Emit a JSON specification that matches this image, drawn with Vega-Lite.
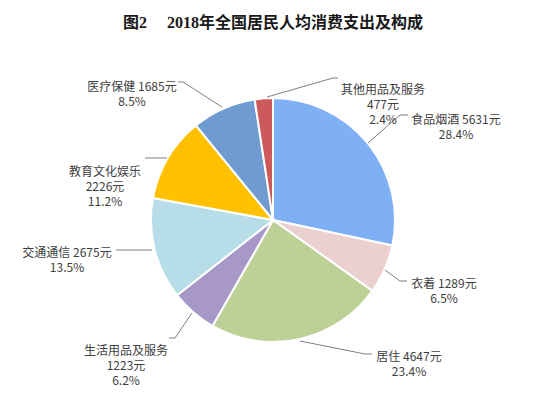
{
  "$schema": "https://vega.github.io/schema/vega-lite/v6.json",
  "width": 526,
  "height": 356,
  "autosize": {"type": "none"},
  "padding": {"top": 42, "left": 10, "right": 0, "bottom": 0},
  "background": "white",
  "view": {"stroke": null},
  "title": {
    "text": "图2\u00a0\u00a0\u00a0\u00a0\u00a02018年全国居民人均消费支出及构成",
    "font": "Liberation Serif, Noto Sans CJK SC",
    "fontSize": 16,
    "fontWeight": "bold",
    "color": "#1a1a1a",
    "anchor": "middle",
    "offset": 11
  },
  "datasets": {
    "slices": [
      {"idx": 1, "cat": "食品烟酒", "value": 5631, "pct": "28.4%"},
      {"idx": 2, "cat": "衣着", "value": 1289, "pct": "6.5%"},
      {"idx": 3, "cat": "居住", "value": 4647, "pct": "23.4%"},
      {"idx": 4, "cat": "生活用品及服务", "value": 1223, "pct": "6.2%"},
      {"idx": 5, "cat": "交通通信", "value": 2675, "pct": "13.5%"},
      {"idx": 6, "cat": "教育文化娱乐", "value": 2226, "pct": "11.2%"},
      {"idx": 7, "cat": "医疗保健", "value": 1685, "pct": "8.5%"},
      {"idx": 8, "cat": "其他用品及服务", "value": 477, "pct": "2.4%"}
    ],
    "labels": [
      {"cat": "食品烟酒", "label": "食品烟酒 5631元\n28.4%", "lx": 183, "ly": 100.5},
      {"cat": "衣着", "label": "衣着 1289元\n6.5%", "lx": 171, "ly": -64},
      {"cat": "居住", "label": "居住 4647元\n23.4%", "lx": 136, "ly": -137},
      {"cat": "生活用品及服务", "label": "生活用品及服务\n1223元\n6.2%", "lx": -147, "ly": -131},
      {"cat": "交通通信", "label": "交通通信 2675元\n13.5%", "lx": -206, "ly": -33},
      {"cat": "教育文化娱乐", "label": "教育文化娱乐\n2226元\n11.2%", "lx": -168, "ly": 48.5},
      {"cat": "医疗保健", "label": "医疗保健 1685元\n8.5%", "lx": -141, "ly": 133},
      {"cat": "其他用品及服务", "label": "其他用品及服务\n477元\n2.4%", "lx": 110, "ly": 130}
    ],
    "leaders": [
      {"cat": "医疗保健", "k": 1, "px": -95, "py": 138},
      {"cat": "医疗保健", "k": 2, "px": -90, "py": 138},
      {"cat": "医疗保健", "k": 3, "px": -51, "py": 113},
      {"cat": "其他用品及服务", "k": 1, "px": -6, "py": 123},
      {"cat": "其他用品及服务", "k": 2, "px": 60, "py": 142},
      {"cat": "其他用品及服务", "k": 3, "px": 65, "py": 142},
      {"cat": "食品烟酒", "k": 1, "px": 95, "py": 77},
      {"cat": "食品烟酒", "k": 2, "px": 127, "py": 105},
      {"cat": "食品烟酒", "k": 3, "px": 135, "py": 105},
      {"cat": "衣着", "k": 1, "px": 112, "py": -50},
      {"cat": "衣着", "k": 2, "px": 127, "py": -61},
      {"cat": "衣着", "k": 3, "px": 134, "py": -61},
      {"cat": "居住", "k": 1, "px": 27, "py": -121},
      {"cat": "居住", "k": 2, "px": 92, "py": -134},
      {"cat": "居住", "k": 3, "px": 99, "py": -134},
      {"cat": "生活用品及服务", "k": 1, "px": -81, "py": -93},
      {"cat": "生活用品及服务", "k": 2, "px": -98, "py": -118},
      {"cat": "生活用品及服务", "k": 3, "px": -104, "py": -118},
      {"cat": "交通通信", "k": 1, "px": -121, "py": -30},
      {"cat": "交通通信", "k": 2, "px": -157, "py": -30},
      {"cat": "教育文化娱乐", "k": 1, "px": -106, "py": 62},
      {"cat": "教育文化娱乐", "k": 2, "px": -128, "py": 62}
    ]
  },
  "layer": [
    {
      "data": {"name": "slices"},
      "mark": {"type": "arc", "outerRadius": 122, "stroke": "white", "strokeWidth": 2},
      "encoding": {
        "theta": {"field": "value", "type": "quantitative", "stack": true},
        "order": {"field": "idx", "type": "quantitative"},
        "color": {
          "field": "cat",
          "type": "nominal",
          "legend": null,
          "scale": {
            "domain": ["食品烟酒", "衣着", "居住", "生活用品及服务", "交通通信", "教育文化娱乐", "医疗保健", "其他用品及服务"],
            "range": ["#7FAFF5", "#EBD0D0", "#BDD095", "#A798C8", "#B6DDE8", "#FFC000", "#6F9BD0", "#CD5A5A"]
          }
        }
      }
    },
    {
      "data": {"name": "leaders"},
      "mark": {"type": "line", "color": "#7F7F7F", "strokeWidth": 1},
      "encoding": {
        "x": {"field": "px", "type": "quantitative", "scale": {"domain": [-263, 263]}, "axis": null},
        "y": {"field": "py", "type": "quantitative", "scale": {"domain": [-178, 178]}, "axis": null},
        "detail": {"field": "cat"},
        "order": {"field": "k", "type": "quantitative"}
      }
    },
    {
      "data": {"name": "labels"},
      "mark": {"type": "text", "font": "Noto Sans CJK SC", "fontSize": 12, "color": "#404040", "align": "center", "baseline": "middle", "lineBreak": "\n", "lineHeight": 15},
      "encoding": {
        "x": {"field": "lx", "type": "quantitative", "scale": {"domain": [-263, 263]}, "axis": null},
        "y": {"field": "ly", "type": "quantitative", "scale": {"domain": [-178, 178]}, "axis": null},
        "text": {"field": "label"}
      }
    }
  ]
}
